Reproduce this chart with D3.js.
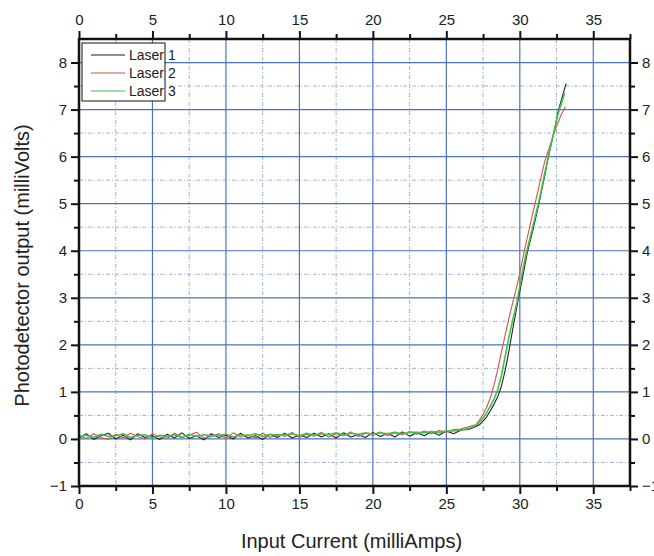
<!DOCTYPE html>
<html>
<head>
<meta charset="utf-8">
<script src="https://cdn.jsdelivr.net/npm/d3@7"></script>
<style>
  html, body { margin: 0; padding: 0; background: #fff; }
  svg { display: block; font-family: "Liberation Sans", Arial, sans-serif; }
</style>
</head>
<body>
<div id="chart"></div>
<script>
// Currents (mA) sampled on the flat part of the curves, shared by all lasers
const lowCurrent = [
  0, 0.5, 1, 1.5, 2, 2.5, 3, 3.5, 4, 4.5, 5, 5.5, 6, 6.5, 7, 7.5, 8, 8.5, 9, 9.5,
  10, 10.5, 11, 11.5, 12, 12.5, 13, 13.5, 14, 14.5, 15, 15.5, 16, 16.5, 17, 17.5,
  18, 18.5, 19, 19.5, 20, 20.5, 21, 21.5, 22, 22.5, 23, 23.5, 24, 24.5, 25, 25.5,
  26, 26.5
];

// Photodetector output (mV) below threshold
const laser1Low = [
  0.02, 0.11, -0.01, 0.07, 0.12, 0.00, 0.08, -0.02, 0.11, 0.03, 0.07, -0.01, 0.10, 0.02, 0.13, 0.01, 0.07, -0.02, 0.11, 0.03,
  0.08, 0.00, 0.12, 0.02, 0.07, -0.01, 0.10, 0.03, 0.12, 0.02, 0.08, 0.03, 0.12, 0.04, 0.11, 0.02, 0.13, 0.04, 0.09, 0.03,
  0.14, 0.05, 0.12, 0.04, 0.15, 0.06, 0.13, 0.07, 0.16, 0.08, 0.17, 0.11, 0.19, 0.20
];
const laser2Low = [
  0.07, 0.01, 0.11, 0.03, -0.01, 0.10, 0.02, 0.12, 0.05, 0.00, 0.11, 0.04, 0.01, 0.12, 0.03, 0.08, 0.14, 0.02, 0.05, 0.11,
  0.01, 0.13, 0.04, 0.09, 0.02, 0.12, 0.03, 0.10, 0.05, 0.14, 0.03, 0.10, 0.06, 0.14, 0.04, 0.11, 0.07, 0.15, 0.05, 0.12,
  0.08, 0.15, 0.07, 0.13, 0.09, 0.16, 0.10, 0.17, 0.11, 0.18, 0.14, 0.20, 0.21, 0.26
];
const laser3Low = [
  0.05, 0.08, 0.03, 0.10, 0.05, 0.07, 0.11, 0.03, 0.08, 0.09, 0.02, 0.08, 0.05, 0.09, 0.03, 0.10, 0.05, 0.09, 0.06, 0.08,
  0.10, 0.04, 0.09, 0.07, 0.11, 0.05, 0.10, 0.07, 0.09, 0.11, 0.07, 0.12, 0.08, 0.11, 0.09, 0.13, 0.08, 0.12, 0.10, 0.13,
  0.10, 0.13, 0.11, 0.14, 0.11, 0.14, 0.14, 0.13, 0.16, 0.14, 0.17, 0.17, 0.20, 0.22
];

// Above threshold: current (mA) and output (mV)
const laser1RampI = [27, 27.25, 27.5, 27.75, 28, 28.25, 28.5, 28.75, 29, 29.25, 29.5, 29.9, 30.2, 30.5, 30.9, 31.3, 31.7, 32.0, 32.3, 32.6, 32.9, 33.15];
const laser1RampV = [0.26, 0.30, 0.38, 0.47, 0.60, 0.74, 0.90, 1.12, 1.45, 1.85, 2.30, 2.98, 3.45, 3.95, 4.45, 5.00, 5.60, 6.08, 6.48, 6.95, 7.28, 7.55];
const laser2RampI = [27, 27.25, 27.5, 27.75, 28, 28.25, 28.5, 28.75, 29, 29.3, 29.7, 30.0, 30.3, 30.7, 31.0, 31.4, 31.7, 32.1, 32.4, 32.8, 33.1];
const laser2RampV = [0.30, 0.40, 0.52, 0.68, 0.88, 1.15, 1.48, 1.85, 2.20, 2.62, 3.12, 3.52, 3.98, 4.55, 4.95, 5.50, 5.90, 6.28, 6.56, 6.88, 7.06];
const laser3RampI = [27, 27.25, 27.5, 27.75, 28, 28.25, 28.5, 28.75, 29, 29.25, 29.5, 29.8, 30.1, 30.4, 30.8, 31.3, 31.6, 32.0, 32.3, 32.6, 33.05];
const laser3RampV = [0.28, 0.35, 0.45, 0.56, 0.70, 0.85, 1.05, 1.35, 1.75, 2.15, 2.50, 2.90, 3.42, 3.90, 4.40, 5.05, 5.50, 6.10, 6.50, 6.90, 7.35];

const seriesNames = ["Laser 1", "Laser 2", "Laser 3"];
const seriesColors = ["#222222", "#d9504a", "#3fc24a"];

const xMajorTicks = [0, 5, 10, 15, 20, 25, 30, 35];
const xMinorTicks = [2.5, 7.5, 12.5, 17.5, 22.5, 27.5, 32.5, 37.5];
const yMajorTicks = [-1, 0, 1, 2, 3, 4, 5, 6, 7, 8];
const yMinorTicks = [-0.5, 0.5, 1.5, 2.5, 3.5, 4.5, 5.5, 6.5, 7.5];

const width = 654, height = 556;
const margin = { top: 39, right: 24, bottom: 70, left: 79 };

const x = d3.scaleLinear().domain([0, 37.5]).range([margin.left, width - margin.right]);
const y = d3.scaleLinear().domain([-1, 8.5]).range([height - margin.bottom, margin.top]);

const svg = d3.select("#chart").append("svg")
  .attr("width", width)
  .attr("height", height);

svg.append("rect").attr("width", width).attr("height", height).attr("fill", "#fff");

// Grid
const grid = svg.append("g");
grid.selectAll("line.vmin").data(xMinorTicks).join("line")
  .attr("x1", d => x(d)).attr("x2", d => x(d))
  .attr("y1", y(8.5)).attr("y2", y(-1))
  .attr("stroke", "#9fb3dc").attr("stroke-width", 1).attr("stroke-dasharray", "4,2,1,2");
grid.selectAll("line.hmin").data(yMinorTicks).join("line")
  .attr("x1", x(0)).attr("x2", x(37.5))
  .attr("y1", d => y(d)).attr("y2", d => y(d))
  .attr("stroke", "#9fb3dc").attr("stroke-width", 1).attr("stroke-dasharray", "4,2,1,2");
grid.selectAll("line.vmaj").data(xMajorTicks.filter(d => d > 0)).join("line")
  .attr("x1", d => x(d)).attr("x2", d => x(d))
  .attr("y1", y(8.5)).attr("y2", y(-1))
  .attr("stroke", "#4a73c2").attr("stroke-width", 1.2);
grid.selectAll("line.hmaj").data(yMajorTicks.filter(d => d > -1)).join("line")
  .attr("x1", x(0)).attr("x2", x(37.5))
  .attr("y1", d => y(d)).attr("y2", d => y(d))
  .attr("stroke", "#4a73c2").attr("stroke-width", 1.2);

// Curves
const line = d3.line().x(d => x(d[0])).y(d => y(d[1]));
const lowData = [laser1Low, laser2Low, laser3Low];
const rampI = [laser1RampI, laser2RampI, laser3RampI];
const rampV = [laser1RampV, laser2RampV, laser3RampV];
const curves = seriesNames.map((name, i) =>
  lowCurrent.map((c, j) => [c, lowData[i][j]])
    .concat(rampI[i].map((c, j) => [c, rampV[i][j]])));

svg.append("g").selectAll("path").data(curves).join("path")
  .attr("d", line)
  .attr("fill", "none")
  .attr("stroke", (d, i) => seriesColors[i])
  .attr("stroke-width", (d, i) => i === 2 ? 1.6 : 1.1)
  .attr("stroke-linejoin", "round");

// Axes on all four sides
function styleAxis(g) {
  g.select(".domain").remove();
  g.selectAll(".tick line").attr("stroke", "#111").attr("stroke-width", 2);
  g.selectAll(".tick text").attr("fill", "#222").attr("font-size", 15)
    .attr("font-family", "'Liberation Sans', Arial, sans-serif");
}
function minorAxis(g) {
  g.select(".domain").remove();
  g.selectAll(".tick line").attr("stroke", "#111").attr("stroke-width", 2);
  g.selectAll(".tick text").remove();
}

const plotBottom = y(-1), plotTop = y(8.5), plotLeft = x(0), plotRight = x(37.5);

svg.append("g").attr("transform", `translate(0,${plotBottom})`)
  .call(d3.axisBottom(x).tickValues(xMajorTicks).tickSize(8).tickPadding(4).tickFormat(d3.format("d"))).call(styleAxis);
svg.append("g").attr("transform", `translate(0,${plotBottom})`)
  .call(d3.axisBottom(x).tickValues(xMinorTicks).tickSize(5)).call(minorAxis);
svg.append("g").attr("transform", `translate(0,${plotTop})`)
  .call(d3.axisTop(x).tickValues(xMajorTicks).tickSize(8).tickPadding(6).tickFormat(d3.format("d"))).call(styleAxis);
svg.append("g").attr("transform", `translate(0,${plotTop})`)
  .call(d3.axisTop(x).tickValues(xMinorTicks).tickSize(5)).call(minorAxis);
svg.append("g").attr("transform", `translate(${plotLeft},0)`)
  .call(d3.axisLeft(y).tickValues(yMajorTicks).tickSize(8).tickPadding(4).tickFormat(d3.format("d"))).call(styleAxis);
svg.append("g").attr("transform", `translate(${plotLeft},0)`)
  .call(d3.axisLeft(y).tickValues(yMinorTicks).tickSize(5)).call(minorAxis);
svg.append("g").attr("transform", `translate(${plotRight},0)`)
  .call(d3.axisRight(y).tickValues(yMajorTicks).tickSize(8).tickPadding(4).tickFormat(d3.format("d"))).call(styleAxis);
svg.append("g").attr("transform", `translate(${plotRight},0)`)
  .call(d3.axisRight(y).tickValues(yMinorTicks).tickSize(5)).call(minorAxis);

// Frame
svg.append("rect")
  .attr("x", plotLeft).attr("y", plotTop)
  .attr("width", plotRight - plotLeft).attr("height", plotBottom - plotTop)
  .attr("fill", "none").attr("stroke", "#111").attr("stroke-width", 2.5);

// Legend
const legend = svg.append("g").attr("transform", `translate(${plotLeft + 3},${plotTop + 4})`);
legend.append("rect").attr("width", 83).attr("height", 58)
  .attr("fill", "#fff").attr("stroke", "#111").attr("stroke-width", 1);
const items = legend.selectAll("g.item").data(seriesNames).join("g")
  .attr("transform", (d, i) => `translate(0,${12 + i * 18})`);
items.append("line").attr("x1", 9).attr("x2", 43)
  .attr("stroke", (d, i) => seriesColors[i]).attr("stroke-width", 1.2);
items.append("text").attr("x", 47).attr("dy", "0.35em")
  .attr("font-size", 14).attr("fill", "#222").text(d => d);

// Axis titles
svg.append("text")
  .attr("x", (plotLeft + plotRight) / 2 - 3).attr("y", 548)
  .attr("text-anchor", "middle").attr("font-size", 20).attr("fill", "#222")
  .text("Input Current (milliAmps)");
svg.append("text")
  .attr("transform", `translate(29,${(plotTop + plotBottom) / 2 + 3}) rotate(-90)`)
  .attr("text-anchor", "middle").attr("font-size", 20).attr("fill", "#222")
  .text("Photodetector output (milliVolts)");
</script>
</body>
</html>
